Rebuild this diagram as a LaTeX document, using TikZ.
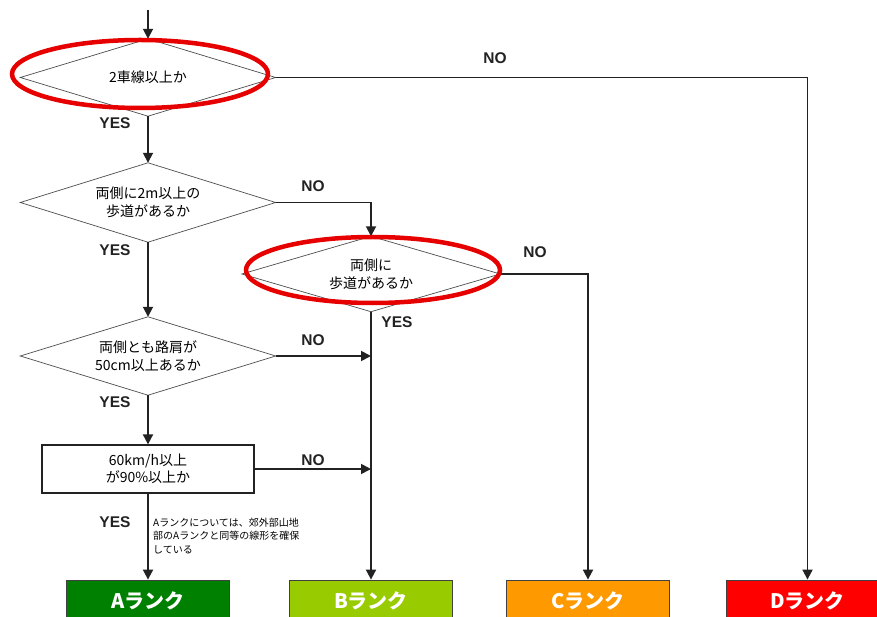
\documentclass[tikz,border=0pt]{standalone}
\usepackage{fontspec}
\setmainfont{Liberation Sans}
\newfontfamily\jp{Noto Sans CJK JP}
\usetikzlibrary{shapes.geometric,arrows.meta}
\definecolor{rankA}{HTML}{008000}
\definecolor{rankB}{HTML}{99CC00}
\definecolor{rankC}{HTML}{FF9900}
\definecolor{rankD}{HTML}{FF0000}
\definecolor{lineC}{HTML}{222222}
\definecolor{markred}{HTML}{E60000}
\tikzset{
  decision/.style={rectangle, inner sep=0pt,
    minimum width=255pt, minimum height=77pt, align=center,
    font=\jp\fontsize{14}{18}\selectfont},
  dshape/.style={draw=black!70, line width=0.7pt},
  procbox/.style={rectangle, draw=lineC, line width=1.2pt, inner sep=0pt,
    minimum width=212pt, minimum height=48pt, align=center,
    font=\jp\fontsize{14}{17}\selectfont},
  rankbox/.style={rectangle, draw=black!75, line width=0.8pt, inner sep=0pt,
    minimum width=163pt, minimum height=42pt, text=white,
    font=\jp\bfseries\fontsize{20}{22}\selectfont},
  conn/.style={draw=lineC, line width=1.8pt},
  arr/.style={conn, -{Triangle[length=10pt,width=10pt]}},
  lbl/.style={font=\bfseries\fontsize{15.5}{18}\selectfont, text=lineC, inner sep=0pt},
  notetext/.style={font=\jp\fontsize{10}{13.5}\selectfont, align=left, inner sep=0pt, anchor=west},
  marker/.style={draw=markred, line width=4.5pt}
}
\begin{document}
\begin{tikzpicture}[x=1pt,y=-1pt]
\useasboundingbox (0,0) rectangle (877,617);
\clip (0,0) rectangle (877,617);

% decisions
\node[decision] (d1) at (148,77.5) {2車線以上か};
\node[decision, minimum height=79pt] (d2) at (148,202.5) {両側に2m以上の\\歩道があるか};
\node[decision, minimum width=258pt, minimum height=75pt] (d3) at (371,274) {両側に\\歩道があるか};
\node[decision, minimum height=78pt] (d4) at (148,356) {両側とも路肩が\\50cm以上あるか};
\foreach \n in {d1,d2,d3,d4}
  \draw[dshape] (\n.north) -- (\n.east) -- (\n.south) -- (\n.west) -- cycle;
\node[procbox] (r) at (148,469) {60km/h以上\\が90\%以上か};

% ranks
\node[rankbox, fill=rankA] (A) at (148,601) {Aランク};
\node[rankbox, fill=rankB] (B) at (371,601) {Bランク};
\node[rankbox, fill=rankC] (C) at (588,601) {Cランク};
\node[rankbox, fill=rankD] (D) at (807.5,601) {Dランク};

% connectors
\coordinate (start) at (148,10);
\draw[arr] (start) -- (d1.north);
\draw[arr] (d1.south) -- (d2.north);
\draw[arr] (d1.east) -| (D.north);
\draw[arr] (d2.east) -| (d3.north);
\draw[arr] (d2.south) -- (d4.north);
\draw[arr] (d3.east) -| (C.north);
\draw[arr] (d3.south) -- (B.north);
\draw[arr] (d4.east) -- (d4.east -| d3.south);
\draw[arr] (d4.south) -- (r.north);
\draw[arr] (r.east) -- (r.east -| d3.south);
\draw[arr] (r.south) -- (A.north);

% labels
\node[lbl] (y1) at (115,123) {YES};
\node[lbl] (n1) at (495,58) {NO};
\node[lbl] (n2) at (313,186) {NO};
\node[lbl] (y2) at (115,250) {YES};
\node[lbl] (n3) at (535,252) {NO};
\node[lbl] (y3) at (397,322) {YES};
\node[lbl] (n4) at (313,340) {NO};
\node[lbl] (y4) at (115,402) {YES};
\node[lbl] (n5) at (313,460) {NO};
\node[lbl] (y5) at (115,522) {YES};

\node[notetext] (note) at (153,536) {Aランクについては、郊外部山地\\部のAランクと同等の線形を確保\\している};

% red highlight ellipses
\draw[marker] (140,74) ellipse [x radius=128, y radius=34];
\draw[marker] (373,270) ellipse [x radius=127, y radius=33];
\end{tikzpicture}
\end{document}
